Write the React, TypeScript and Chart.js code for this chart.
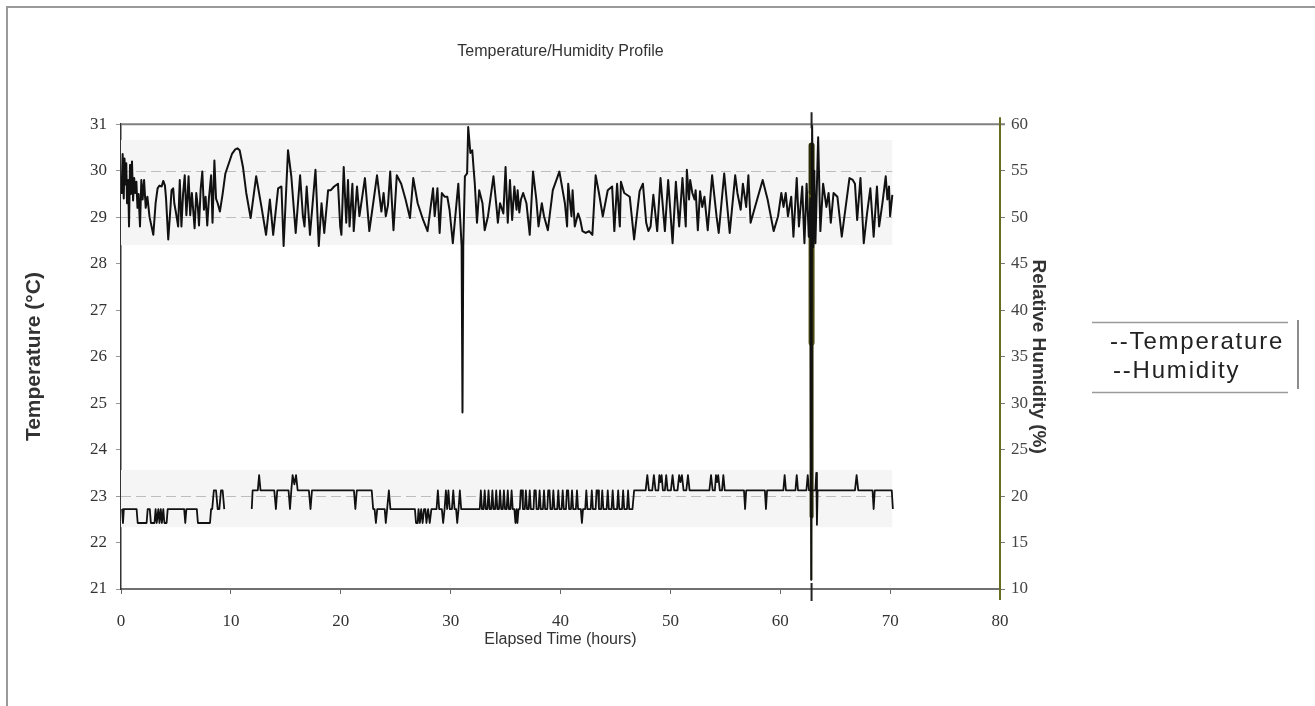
import React, { useEffect, useRef } from "react";
import { Chart, registerables } from "chart.js";

Chart.register(...registerables);

// ---- data (hours, value) ----
const humidityReadings: [number, number][] = [
  [0.05, 52.5], [0.15, 56.8], [0.25, 52.0], [0.32, 56.3], [0.4, 53.5], [0.48, 55.8], [0.55, 51.5], [0.65, 54.0],
  [0.73, 49.0], [0.82, 55.6], [0.9, 52.5], [1.0, 56.0], [1.1, 51.8], [1.2, 54.2], [1.3, 52.6], [1.4, 53.8],
  [1.5, 51.0], [1.6, 52.5], [1.73, 49.0], [1.85, 54.0], [1.97, 51.9], [2.1, 54.0], [2.25, 51.0], [2.4, 52.2],
  [2.6, 50.0], [2.94, 48.1], [3.15, 51.5], [3.33, 53.1], [3.5, 53.4], [3.7, 53.3], [3.85, 53.9], [4.0, 53.4],
  [4.1, 52.0], [4.3, 47.6], [4.5, 51.0], [4.6, 52.9], [4.75, 53.1], [4.85, 51.5], [5.0, 50.5], [5.2, 49.0],
  [5.35, 54.0], [5.5, 49.0], [5.65, 52.5], [5.8, 54.5], [5.95, 50.2], [6.05, 52.0], [6.15, 54.4], [6.3, 50.2],
  [6.45, 52.6], [6.7, 48.8], [6.85, 52.6], [7.0, 51.0], [7.1, 49.1], [7.25, 53.0], [7.4, 54.9], [7.55, 50.8],
  [7.7, 52.2], [7.85, 49.1], [8.0, 52.0], [8.2, 54.5], [8.33, 49.4], [8.5, 56.1], [8.65, 52.0], [8.8, 51.5],
  [9.0, 50.6], [9.25, 52.5], [9.5, 54.7], [9.9, 56.1], [10.1, 56.8], [10.4, 57.3], [10.6, 57.4], [10.8, 57.2],
  [11.1, 55.4], [11.4, 52.6], [11.8, 49.9], [12.3, 54.4], [12.8, 51.0], [13.2, 48.1], [13.55, 51.9], [13.85, 48.1],
  [14.3, 53.1], [14.6, 53.3], [14.8, 46.9], [15.2, 57.2], [15.5, 54.4], [15.9, 48.3], [16.3, 54.5], [16.55, 50.2],
  [16.7, 49.0], [16.9, 53.3], [17.2, 48.1], [17.7, 55.1], [18.0, 46.9], [18.25, 51.5], [18.5, 48.3], [18.85, 52.9],
  [19.1, 52.9], [19.4, 53.3], [19.75, 53.6], [19.95, 49.0], [20.06, 48.1], [20.27, 55.4], [20.5, 49.4], [20.66, 54.0],
  [20.8, 49.0], [21.06, 53.6], [21.18, 48.5], [21.48, 53.3], [21.7, 50.1], [22.2, 54.2], [22.6, 48.5], [23.0, 51.9],
  [23.3, 54.5], [23.7, 50.6], [23.9, 52.6], [24.1, 50.1], [24.3, 51.3], [24.5, 54.9], [24.8, 48.6], [25.1, 54.5],
  [25.5, 53.6], [25.9, 51.9], [26.3, 49.9], [26.6, 54.2], [27.0, 51.5], [27.5, 49.7], [27.9, 48.5], [28.4, 53.1],
  [28.55, 50.1], [28.8, 53.1], [29.0, 48.3], [29.2, 52.6], [29.45, 52.2], [29.7, 52.2], [29.9, 50.8], [30.2, 47.2],
  [30.7, 53.6], [31.0, 46.9], [31.08, 29.0], [31.15, 46.9], [31.3, 54.4], [31.5, 54.7], [31.6, 59.7], [31.8, 56.9],
  [31.97, 57.2], [32.1, 55.1], [32.2, 53.6], [32.4, 49.4], [32.6, 52.9], [32.9, 51.5], [33.1, 48.6], [33.4, 50.1],
  [33.9, 54.4], [34.2, 50.8], [34.3, 49.4], [34.5, 51.5], [34.8, 50.4], [35.0, 55.4], [35.2, 49.4], [35.4, 54.0],
  [35.6, 49.7], [35.8, 53.3], [36.0, 50.8], [36.1, 52.9], [36.25, 50.5], [36.4, 51.9], [36.6, 52.6], [36.9, 51.5],
  [37.2, 48.1], [37.5, 54.9], [37.8, 51.9], [38.0, 49.0], [38.3, 51.5], [38.5, 50.1], [38.85, 48.6], [39.3, 52.9],
  [39.9, 54.9], [40.4, 51.5], [40.6, 49.0], [40.7, 53.6], [41.0, 50.1], [41.1, 52.9], [41.3, 49.0], [41.6, 50.4],
  [41.8, 49.7], [42.0, 48.5], [42.3, 48.3], [42.6, 48.5], [42.9, 48.1], [43.2, 54.5], [43.5, 52.6], [43.85, 50.1],
  [44.3, 52.9], [44.7, 53.3], [44.9, 48.5], [45.15, 53.6], [45.4, 49.0], [45.5, 53.8], [45.8, 52.6], [46.3, 52.2],
  [46.7, 47.6], [47.2, 52.8], [47.5, 53.6], [47.8, 49.4], [48.0, 48.5], [48.2, 49.0], [48.45, 52.4], [48.8, 48.5],
  [49.1, 54.2], [49.5, 48.5], [49.8, 54.0], [50.2, 47.2], [50.5, 53.8], [50.8, 49.0], [51.1, 54.2], [51.4, 49.0],
  [51.5, 55.1], [51.7, 51.9], [51.8, 54.0], [52.0, 52.6], [52.2, 51.9], [52.3, 52.9], [52.5, 48.6], [52.7, 52.8],
  [52.9, 51.1], [53.1, 52.2], [53.4, 48.6], [53.8, 54.5], [54.2, 50.1], [54.4, 48.3], [54.9, 54.7], [55.4, 48.3],
  [55.9, 54.5], [56.1, 52.6], [56.4, 50.8], [56.6, 53.6], [56.9, 51.1], [57.1, 54.5], [57.3, 49.4], [57.8, 51.5],
  [58.4, 54.0], [58.85, 51.9], [59.4, 48.5], [59.8, 50.1], [60.1, 52.6], [60.3, 51.1], [60.5, 52.6], [60.7, 50.1],
  [61.0, 52.2], [61.2, 47.9], [61.5, 54.2], [61.7, 49.0], [62.0, 53.3], [62.2, 47.2], [62.4, 53.6], [62.6, 47.9],
  [62.75, 52.0], [62.82, 11.0], [62.9, 60.0], [63.0, 46.8], [63.1, 55.0], [63.2, 47.2], [63.45, 58.6], [63.65, 48.5],
  [63.9, 53.6], [64.2, 51.1], [64.4, 52.6], [64.6, 49.4], [64.85, 52.6], [65.2, 52.2], [65.6, 47.9], [66.0, 51.5],
  [66.3, 54.2], [66.6, 54.0], [66.8, 53.6], [67.0, 49.7], [67.3, 54.2], [67.6, 47.2], [67.9, 50.4], [68.2, 53.1],
  [68.5, 47.9], [68.8, 53.3], [69.0, 49.0], [69.3, 51.5], [69.6, 54.4], [69.75, 51.9], [69.9, 53.3], [70.0, 50.1],
  [70.2, 52.4],
];

const temperatureReadings: [number, number | null][] = [
  [0.1, 22.72], [0.18, 22.42], [0.26, 22.72], [1.42, 22.72], [1.52, 22.42], [2.33, 22.42], [2.43, 22.72], [2.62, 22.72],
  [2.72, 22.42], [3.05, 22.42], [3.15, 22.72], [3.25, 22.42], [3.4, 22.72], [3.5, 22.42], [3.62, 22.72], [3.72, 22.42],
  [3.85, 22.72], [3.95, 22.42], [4.15, 22.42], [4.25, 22.72], [5.75, 22.72], [5.85, 22.42], [5.95, 22.72], [6.9, 22.72],
  [7.0, 22.42], [8.1, 22.42], [8.2, 22.72], [8.3, 22.72], [8.45, 23.12], [8.65, 23.12], [8.8, 22.72], [8.95, 22.72],
  [9.1, 23.12], [9.25, 23.12], [9.4, 22.72],
  [10.6, null],
  [11.9, 22.72], [11.98, 23.12], [12.45, 23.12], [12.57, 23.45], [12.7, 23.12], [13.95, 23.12], [14.1, 22.72], [14.22, 23.12],
  [15.25, 23.12], [15.38, 22.72], [15.5, 23.12], [15.62, 23.45], [15.78, 23.25], [15.93, 23.45], [16.08, 23.12], [17.1, 23.12],
  [17.25, 22.72], [17.38, 23.12], [21.2, 23.12], [21.33, 22.72], [21.46, 23.12], [22.82, 23.12], [22.95, 22.72], [23.08, 22.72],
  [23.2, 22.42], [23.32, 22.72], [24.0, 22.72], [24.1, 22.42], [24.22, 22.72], [24.38, 23.12], [24.52, 22.72], [26.75, 22.72],
  [26.85, 22.42], [27.0, 22.42], [27.08, 22.72], [27.2, 22.42], [27.32, 22.72], [27.45, 22.42], [27.58, 22.72], [27.7, 22.72],
  [27.8, 22.42], [27.95, 22.72], [28.1, 22.42], [28.25, 22.72], [28.72, 22.72], [28.84, 23.12], [28.96, 22.72], [29.2, 22.72],
  [29.32, 22.42], [29.45, 22.72], [29.57, 23.12], [29.68, 22.72], [29.8, 23.12], [29.92, 22.72], [30.12, 22.72], [30.24, 23.12],
  [30.36, 22.72], [30.5, 22.72], [30.6, 22.42], [30.72, 22.72], [30.84, 23.12], [30.96, 22.72], [32.65, 22.72], [32.75, 23.12],
  [32.85, 22.72], [33.0, 22.72], [33.1, 23.12], [33.2, 22.72], [33.35, 22.72], [33.45, 23.12], [33.55, 22.72], [33.7, 22.72],
  [33.8, 23.12], [33.9, 22.72], [34.05, 22.72], [34.15, 23.12], [34.25, 22.72], [34.4, 22.72], [34.5, 23.12], [34.6, 22.72],
  [34.75, 22.72], [34.85, 23.12], [34.95, 22.72], [35.1, 22.72], [35.2, 23.12], [35.3, 22.72], [35.45, 22.72], [35.55, 23.12],
  [35.65, 22.72], [35.8, 22.72], [35.9, 22.42], [36.0, 22.72], [36.08, 22.42], [36.18, 22.72], [36.3, 22.72], [36.38, 23.12],
  [36.5, 23.12], [36.58, 22.72], [36.75, 22.72], [36.85, 23.12], [36.95, 22.72], [37.1, 22.72], [37.2, 23.12], [37.3, 22.72],
  [37.55, 22.72], [37.62, 23.12], [37.75, 23.12], [37.82, 22.72], [38.0, 22.72], [38.1, 23.12], [38.2, 22.72], [38.4, 22.72],
  [38.5, 23.12], [38.6, 22.72], [38.8, 22.72], [38.88, 23.12], [39.0, 23.12], [39.08, 22.72], [39.25, 22.72], [39.35, 23.12],
  [39.45, 22.72], [39.7, 22.72], [39.8, 23.12], [39.9, 22.72], [40.1, 22.72], [40.2, 23.12], [40.3, 22.72], [40.5, 22.72],
  [40.58, 23.12], [40.7, 23.12], [40.78, 22.72], [40.95, 22.72], [41.05, 23.12], [41.15, 22.72], [41.4, 22.72], [41.5, 23.12],
  [41.6, 22.72], [41.85, 22.72], [41.95, 22.42], [42.05, 22.72], [42.25, 22.72], [42.35, 23.12], [42.45, 22.72], [42.75, 22.72],
  [42.85, 23.12], [42.95, 22.72], [43.2, 22.72], [43.28, 23.12], [43.42, 23.12], [43.5, 22.72], [43.7, 22.72], [43.8, 23.12],
  [43.9, 22.72], [44.2, 22.72], [44.3, 23.12], [44.4, 22.72], [44.65, 22.72], [44.75, 23.12], [44.85, 22.72], [45.15, 22.72],
  [45.25, 23.12], [45.35, 22.72], [45.6, 22.72], [45.7, 23.12], [45.8, 22.72], [46.05, 22.72], [46.15, 23.12], [46.25, 22.72],
  [46.55, 22.72], [46.7, 23.12], [47.75, 23.12], [47.9, 23.45], [48.05, 23.12], [48.35, 23.12], [48.5, 23.45], [48.65, 23.12],
  [48.9, 23.12], [49.0, 23.45], [49.1, 23.3], [49.2, 23.45], [49.32, 23.12], [49.5, 23.12], [49.62, 23.45], [49.75, 23.12],
  [50.05, 23.12], [50.2, 23.45], [50.35, 23.12], [50.65, 23.12], [50.8, 23.45], [50.92, 23.3], [51.05, 23.45], [51.2, 23.12],
  [51.45, 23.12], [51.6, 23.45], [51.75, 23.12], [53.55, 23.12], [53.7, 23.45], [53.85, 23.12], [54.05, 23.12], [54.15, 23.45],
  [54.25, 23.3], [54.35, 23.45], [54.5, 23.12], [54.7, 23.12], [54.82, 23.45], [54.95, 23.12], [56.7, 23.12], [56.8, 22.72],
  [56.9, 23.12], [58.6, 23.12], [58.7, 22.72], [58.8, 23.12], [60.28, 23.12], [60.4, 23.45], [60.52, 23.12], [61.38, 23.12],
  [61.5, 23.45], [61.62, 23.12], [62.38, 23.12], [62.5, 23.45], [62.62, 23.12], [63.2, 23.12], [63.28, 23.5], [63.34, 22.38],
  [63.4, 23.12], [66.8, 23.12], [66.95, 23.45], [67.1, 23.12], [68.4, 23.12], [68.5, 22.72], [68.6, 23.12], [70.15, 23.12],
  [70.25, 22.72],
];

// olive event marker at ~62.85 h (humidity-axis values)
const markerDark: [number, number][] = [[62.85, 57.7], [62.85, 52.7]];
const markerOlive: [number, number][] = [[62.85, 52.7], [62.85, 36.5]];
const markerLower: [number, number][] = [[62.85, 36.5], [62.85, 17.8]];
const markerThin: [number, number][] = [[62.85, 17.8], [62.85, 11.0]];

const dashedGridTemps = [30, 29, 23];
const legendLabels = ["--Temperature", "--Humidity"];

const SERIF = "'Liberation Serif', 'Times New Roman', serif";
const SANS = "'Liberation Sans', Arial, sans-serif";

const toXY = (arr: [number, number | null][]) => arr.map(([x, y]) => ({ x, y }));

const decorPlugin = {
  id: "decor",
  beforeDatasetsDraw(chart: any) {
    const { ctx, scales } = chart;
    const x = scales.x, yT = scales.yT, yH = scales.yH;
    const lastHour = humidityReadings[humidityReadings.length - 1][0];
    const x0 = x.getPixelForValue(0);
    const x1 = x.getPixelForValue(lastHour);
    ctx.save();
    ctx.fillStyle = "#f5f5f5";
    const a = yH.getPixelForValue(58.3), b = yH.getPixelForValue(47);
    ctx.fillRect(x0, a, x1 - x0, b - a);
    const c = yT.getPixelForValue(23.56), d = yT.getPixelForValue(22.33);
    ctx.fillRect(x0, c, x1 - x0, d - c);
    ctx.setLineDash([10, 5]);
    ctx.strokeStyle = "#bdbdbd";
    ctx.lineWidth = 1;
    for (const v of dashedGridTemps) {
      const py = Math.round(yT.getPixelForValue(v)) + 0.5;
      ctx.beginPath();
      ctx.moveTo(x0, py);
      ctx.lineTo(x1, py);
      ctx.stroke();
    }
    ctx.restore();
  },
  afterDraw(chart: any) {
    const { ctx, chartArea, scales, width, height } = chart;
    const x = scales.x;
    ctx.save();
    // outer frame
    ctx.strokeStyle = "#9a9a9a";
    ctx.lineWidth = 2;
    ctx.beginPath();
    ctx.moveTo(7, height);
    ctx.lineTo(7, 7);
    ctx.lineTo(width, 7);
    ctx.stroke();
    // top border of plot
    ctx.strokeStyle = "#808080";
    ctx.lineWidth = 2;
    ctx.beginPath();
    ctx.moveTo(chartArea.left, chartArea.top);
    ctx.lineTo(chartArea.right + 5, chartArea.top);
    ctx.stroke();
    // marker extensions above / below the plot
    const mx = x.getPixelForValue(markerDark[0][0]);
    ctx.strokeStyle = "#222";
    ctx.lineWidth = 2;
    ctx.beginPath();
    ctx.moveTo(mx, chartArea.top - 12);
    ctx.lineTo(mx, chartArea.top + 4);
    ctx.moveTo(mx, chartArea.bottom - 6);
    ctx.lineTo(mx, chartArea.bottom + 12);
    ctx.stroke();
    ctx.strokeStyle = "#6b6b20";
    ctx.beginPath();
    ctx.moveTo(chartArea.right, chartArea.top - 7);
    ctx.lineTo(chartArea.right, chartArea.bottom + 11);
    ctx.stroke();
    // legend
    ctx.strokeStyle = "#9a9a9a";
    ctx.lineWidth = 1.5;
    ctx.beginPath();
    ctx.moveTo(1092, 322.5);
    ctx.lineTo(1288, 322.5);
    ctx.moveTo(1092, 392.5);
    ctx.lineTo(1288, 392.5);
    ctx.stroke();
    ctx.strokeStyle = "#666";
    ctx.beginPath();
    ctx.moveTo(1298, 320);
    ctx.lineTo(1298, 389);
    ctx.stroke();
    ctx.fillStyle = "#222";
    ctx.font = `24px ${SANS}`;
    ctx.textBaseline = "alphabetic";
    ctx.textAlign = "left";
    (ctx as any).letterSpacing = "1.8px";
    ctx.fillText(legendLabels[0], 1110, 349);
    ctx.fillText(legendLabels[1], 1113, 378);
    (ctx as any).letterSpacing = "0px";
    ctx.restore();
  },
};

export default function App() {
  const ref = useRef<HTMLCanvasElement | null>(null);
  useEffect(() => {
    if (!ref.current) return;
    const lineDs = (label: string, data: any, axis: string, color: string, w: number) => ({
      label,
      data,
      yAxisID: axis,
      borderColor: color,
      backgroundColor: color,
      borderWidth: w,
      pointRadius: 0,
      tension: 0,
      spanGaps: false,
      fill: false,
      borderJoinStyle: "round" as const,
      borderCapStyle: "butt" as const,
    });
    const chart = new Chart(ref.current, {
      type: "line",
      data: {
        datasets: [
          lineDs("Temperature", toXY(temperatureReadings), "yT", "#111", 1.8),
          lineDs("Humidity", toXY(humidityReadings), "yH", "#111", 2),
          lineDs("markerDark", toXY(markerDark), "yH", "#2a2a05", 6),
          lineDs("markerOlive", toXY(markerOlive), "yH", "#4d4d12", 6),
          lineDs("markerLower", toXY(markerLower), "yH", "#30300a", 4),
          lineDs("markerThin", toXY(markerThin), "yH", "#5c5c1c", 1.5),
        ],
      },
      options: {
        animation: false,
        responsive: false,
        events: [],
        layout: { padding: 0 },
        plugins: {
          legend: { display: false },
          tooltip: { enabled: false },
          title: {
            display: true,
            text: "Temperature/Humidity Profile",
            color: "#333",
            font: { family: SANS, size: 16, weight: "normal" },
            padding: { top: 42, bottom: 63 },
            fullSize: false,
          },
        },
        scales: {
          x: {
            type: "linear",
            min: 0,
            max: 80,
            ticks: { stepSize: 10, font: { family: SERIF, size: 17 }, color: "#333", padding: 17 },
            grid: { drawOnChartArea: false, drawTicks: true, tickLength: 5, color: "#666" },
            border: { display: true, color: "#707070", width: 2 },
            title: {
              display: true,
              text: "Elapsed Time (hours)",
              color: "#333",
              font: { family: SANS, size: 16 },
              padding: { top: 0, bottom: 57 },
            },
            afterFit: (s: any) => { s.height = 117; },
          },
          yT: {
            type: "linear",
            position: "left",
            min: 21,
            max: 31,
            ticks: { stepSize: 1, font: { family: SERIF, size: 17 }, color: "#333", padding: 9 },
            grid: { drawOnChartArea: false, drawTicks: true, tickLength: 5, color: "#999" },
            border: { display: true, color: "#333", width: 1.5 },
            title: {
              display: true,
              text: "Temperature (°C)",
              color: "#333",
              font: { family: SANS, size: 21, weight: "bold" },
              padding: { top: 22, bottom: 0 },
            },
            afterFit: (s: any) => { s.width = 121; },
          },
          yH: {
            type: "linear",
            position: "right",
            min: 10,
            max: 60,
            ticks: { stepSize: 5, font: { family: SERIF, size: 17 }, color: "#444", padding: 6 },
            grid: { drawOnChartArea: false, drawTicks: true, tickLength: 5, color: "#777" },
            border: { display: true, color: "#6b6b20", width: 2 },
            title: {
              display: true,
              text: "Relative Humidity (%)",
              color: "#333",
              font: { family: SANS, size: 19, weight: "bold" },
              padding: { top: 265, bottom: 0 },
            },
            afterFit: (s: any) => { s.width = 315; },
          },
        },
      },
      plugins: [decorPlugin],
    } as any);
    return () => chart.destroy();
  }, []);
  return (
    <div style={{ position: "fixed", left: 0, top: 0, width: 1315, height: 706, background: "#fff" }}>
      <canvas ref={ref} width={1315} height={706} style={{ width: 1315, height: 706, display: "block" }} />
    </div>
  );
}
